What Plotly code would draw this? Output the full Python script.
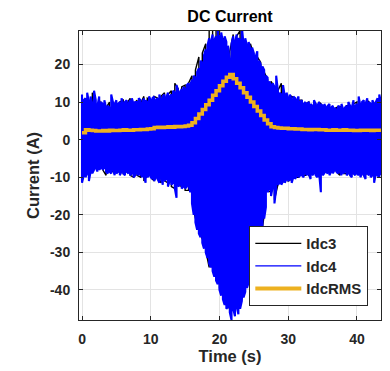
import numpy as np
import plotly.graph_objects as go

# ---------------- data ----------------
# sample times (s) for the Idc4 envelope, every 0.25 s
t_idc4 = np.arange(0, 43.5 + 1e-9, 0.25)
# upper / lower extremes of Idc4 (A) in each 0.25 s slot
idc4_upper = [
    12.0, 10.5, 11.0, 12.5,  10.0, 11.5, 9.5, 13.0,  10.5, 9.0, 11.5, 10.0,
    9.5, 10.5, 8.5, 9.0,  8.5, 12.0, 10.0, 9.5,  10.5, 9.5, 10.0, 11.0,
    9.5, 10.0, 10.5, 9.5,  10.5, 11.0, 9.5, 10.0,  10.0, 11.0, 10.5, 9.5,
    11.0, 10.5, 10.0, 11.5,  10.5, 11.0, 11.5, 10.5,  11.0, 12.0, 10.5, 11.5,
    12.0, 11.0, 12.5, 11.5,  12.0, 13.0, 12.5, 14.5,  13.0, 12.5, 13.5, 14.0,
    13.5, 14.5, 15.0, 14.5,  16.0, 17.0, 16.5, 18.0,  19.0, 21.0, 20.5, 22.5,
    24.0, 25.0, 27.0, 26.0,  28.0, 26.5, 27.5, 30.0,  27.0, 28.5, 26.0, 27.5,
    26.0, 25.0, 20.5, 25.5,  27.5, 26.0, 28.0, 27.0,  26.5, 30.0, 25.5, 27.0,
    25.0, 26.0, 24.0, 24.5,  23.0, 22.0, 23.5, 21.0,  20.0, 19.5, 18.5, 17.0,
    16.5, 15.5, 14.5, 15.0,  14.0, 17.0, 13.0, 12.5,  12.0, 14.5, 11.5, 12.5,
    11.0, 12.0, 10.5, 11.5,  11.0, 10.5, 11.5, 10.0,  10.5, 9.5, 10.0, 9.5,
    10.0, 9.5, 9.0, 10.5,  9.5, 9.0, 10.0, 9.5,  9.0, 9.5, 8.5, 9.0,
    9.5, 8.5, 9.0, 8.5,  8.0, 9.0, 8.5, 9.5,  8.0, 8.5, 9.0, 10.0,
    9.0, 8.5, 10.5, 9.0,  9.5, 11.5, 9.0, 10.0,  10.5, 9.5, 11.0, 10.0,
    9.5, 10.5, 9.5, 10.0,  11.0, 12.0, 10.0,
]
idc4_lower = [
    -11.5, -9.5, -10.0, -9.0,  -11.0, -8.5, -9.0, -8.0,  -7.5, -8.5, -8.0, -7.5,
    -8.0, -7.5, -8.5, -9.0,  -8.5, -9.0, -8.0, -9.5,  -9.0, -8.5, -9.5, -8.5,
    -9.0, -9.5, -8.5, -9.0,  -9.5, -9.0, -10.0, -9.5,  -9.0, -9.5, -9.0, -10.0,
    -9.5, -11.5, -10.0, -9.5,  -10.0, -10.5, -11.0, -10.0,  -10.5, -11.5, -10.0, -12.0,
    -11.0, -10.5, -12.5, -11.0,  -12.0, -11.5, -13.0, -15.5,  -12.5, -12.0, -13.0, -12.5,
    -13.0, -12.5, -12.0, -14.0,  -17.0, -20.0, -22.0, -24.0,  -25.0, -26.0, -27.5, -29.0,
    -30.0, -31.5, -33.0, -34.0,  -35.0, -36.5, -37.5, -38.5,  -40.0, -41.5, -42.5, -44.0,
    -45.0, -44.5, -46.0, -48.0,  -45.0, -47.0, -44.5, -46.5,  -45.0, -43.0, -42.0, -40.5,
    -39.5, -38.0, -36.5, -35.5,  -34.0, -33.0, -31.5, -30.0,  -28.0, -25.0, -21.0, -18.0,
    -14.0, -13.0, -15.0, -12.5,  -17.0, -13.0, -12.0, -11.5,  -12.0, -11.0, -11.5, -10.5,
    -11.0, -10.5, -11.5, -10.0,  -10.5, -9.5, -10.0, -9.5,  -9.5, -10.0, -9.0, -9.5,
    -9.0, -10.5, -9.5, -9.0,  -9.5, -10.0, -9.0, -14.0,  -9.5, -9.0, -8.5, -9.0,
    -9.5, -8.5, -9.0, -8.0,  -8.5, -9.0, -8.5, -9.5,  -9.0, -8.5, -9.5, -9.0,
    -9.5, -10.0, -9.0, -9.5,  -9.0, -9.5, -10.0, -9.0,  -9.5, -10.5, -9.0, -9.5,
    -10.0, -9.5, -11.5, -9.0,  -9.5, -10.0, -9.5,
]

# sample times (s) for Idc3 and the RMS curve, every 0.5 s
t_half = np.arange(0, 43.5 + 1e-9, 0.5)
idc3_upper = [
    10.5, 10.0, 9.5, 12.5, 9.5, 10.5, 8.5, 8.5, 10.0, 9.0,
    9.5, 10.0, 10.5, 9.5, 11.0, 9.5, 10.5, 9.5, 11.5, 11.0,
    10.5, 11.5, 11.0, 11.5, 12.5, 12.0, 13.0, 15.0, 13.5, 14.0,
    14.5, 15.0, 17.0, 18.5, 22.0, 23.0, 25.5, 29.5, 29.0, 30.0,
    29.5, 27.0, 25.0, 23.5, 28.0, 27.5, 29.0, 26.5, 24.5, 25.5,
    22.5, 22.0, 20.5, 18.0, 16.0, 15.5, 14.0, 13.0, 15.0, 12.0,
    11.0, 11.5, 11.0, 10.5, 10.5, 9.5, 10.0, 9.0, 9.5, 10.0,
    9.0, 8.5, 9.0, 8.0, 8.5, 9.0, 7.5, 9.0, 9.0, 9.5,
    10.0, 9.0, 10.0, 10.5, 9.5, 9.5, 10.5, 10.0,
]
idc3_lower = [
    -9.5, -9.0, -8.5, -7.5, -7.5, -7.5, -8.0, -9.5, -8.5, -8.5,
    -8.5, -8.5, -9.0, -8.5, -9.5, -10.0, -9.5, -10.0, -11.0, -9.5,
    -10.0, -11.0, -10.5, -11.5, -11.0, -11.5, -12.5, -13.0, -12.0, -12.5,
    -13.5, -13.5, -16.5, -21.0, -24.0, -26.5, -29.5, -34.0, -34.0, -36.5,
    -39.5, -41.5, -44.0, -45.0, -45.5, -43.5, -44.0, -41.0, -38.5, -35.5,
    -33.0, -30.5, -27.0, -20.0, -13.5, -14.0, -16.0, -12.0, -11.5, -11.0,
    -11.0, -10.5, -10.0, -10.0, -9.5, -9.5, -9.5, -9.0, -9.5, -9.5,
    -9.0, -8.5, -8.5, -8.5, -8.5, -9.5, -9.0, -9.0, -9.0, -9.0,
    -9.0, -9.0, -9.5, -9.0, -9.5, -9.0, -9.5, -9.0,
]
idc_rms = [
    1.8, 2.6, 2.5, 2.4, 2.3, 2.3, 2.4, 2.3, 2.5, 2.4,
    2.4, 2.5, 2.6, 2.5, 2.5, 2.6, 2.6, 2.7, 2.7, 2.8,
    2.9, 3.2, 3.3, 3.2, 3.3, 3.4, 3.3, 3.5, 3.4, 3.5,
    3.6, 3.8, 4.5, 5.6, 6.8, 8.0, 9.3, 10.5, 11.8, 13.0,
    14.3, 15.5, 16.6, 17.3, 16.2, 15.0, 13.8, 12.5, 11.3, 10.0,
    8.8, 7.6, 6.4, 5.2, 4.2, 3.4, 3.2, 3.1, 3.0, 3.0,
    2.9, 2.9, 2.8, 2.8, 2.7, 2.7, 2.6, 2.7, 2.7, 2.6,
    2.6, 2.5, 2.5, 2.6, 2.5, 2.5, 2.6, 2.5, 2.5, 2.4,
    2.4, 2.5, 2.5, 2.5, 2.4, 2.5, 2.5, 2.5,
]

series_names = ["Idc3", "Idc4", "IdcRMS"]
series_colors = ["#000000", "#0000FF", "#EDB120"]
x_ticks = [0, 10, 20, 30, 40]
y_ticks = [-40, -30, -20, -10, 0, 10, 20]


def snake(t, up, lo):
    """Trace sweeping between extremes: U0 L0 L1 U1 U2 L2 L3 U3 ..."""
    t = np.asarray(t, float)
    up = np.asarray(up, float)
    lo = np.asarray(lo, float)
    xs = np.repeat(t, 2)
    ys = np.empty(2 * len(t))
    even = np.arange(len(t)) % 2 == 0
    ys[0::2] = np.where(even, up, lo)
    ys[1::2] = np.where(even, lo, up)
    return xs, ys


x3, y3 = snake(t_half, idc3_upper, idc3_lower)
x4, y4 = snake(t_idc4, idc4_upper, idc4_lower)

FONT = "Liberation Sans"
DARK = "#262626"

fig = go.Figure()
# drawn signals (legend entries are added separately with thin sample lines)
fig.add_trace(go.Scatter(x=x3, y=y3, mode="lines", showlegend=False,
                         legendgroup="a", line=dict(color=series_colors[0], width=1.4)))
fig.add_trace(go.Scatter(x=x4, y=y4, mode="lines", showlegend=False,
                         legendgroup="b", line=dict(color=series_colors[1], width=2.1)))
fig.add_trace(go.Scatter(x=t_half, y=idc_rms, mode="lines", showlegend=False,
                         legendgroup="c",
                         line=dict(color=series_colors[2], width=3.5, shape="hv")))
# legend samples
for name, col, w, grp in zip(series_names, series_colors, [1.2, 1.2, 4], "abc"):
    fig.add_trace(go.Scatter(x=[None], y=[None], mode="lines", legendgroup=grp,
                             name=f"<b>{name}</b>", line=dict(color=col, width=w)))

axis_common = dict(
    showline=True, linecolor=DARK, linewidth=1, mirror="allticks",
    ticks="inside", ticklen=4, tickcolor=DARK, automargin=False,
    showgrid=True, gridcolor="#e3e3e3", gridwidth=1, zeroline=False,
    tickfont=dict(family=FONT, size=14, color=DARK),
)

fig.update_layout(
    width=390, height=371,
    margin=dict(l=79, r=9, t=31, b=51, autoexpand=False),
    paper_bgcolor="white", plot_bgcolor="white",
    font=dict(family=FONT, color=DARK),
    title=dict(text="<b>DC Current</b>", x=0.5, xref="paper",
               y=1 - 16 / 371, yref="container", yanchor="middle",
               font=dict(family=FONT, size=16, color="#000000")),
    xaxis=dict(range=[-0.44, 43.5], tickvals=x_ticks,
               ticktext=[f"<b>{v}</b>" for v in x_ticks],
               ticklabelstandoff=6,
               title=dict(text="<b>Time (s)</b>", standoff=4,
                          font=dict(family=FONT, size=16.5, color=DARK)),
               **axis_common),
    yaxis=dict(range=[-48.0, 28.9], tickvals=y_ticks,
               ticktext=[f"<b>{v}</b>" for v in y_ticks],
               ticklabelstandoff=5,
               title=dict(text="<b>Current (A)</b>", standoff=6,
                          font=dict(family=FONT, size=16.5, color=DARK)),
               **axis_common),
    legend=dict(x=0.958, xanchor="right", y=0.048, yanchor="bottom",
                bgcolor="white", bordercolor=DARK, borderwidth=1,
                font=dict(family=FONT, size=15, color=DARK),
                tracegroupgap=0, itemwidth=46, groupclick="toggleitem",
                traceorder="normal"),
    showlegend=True,
)

fig.write_html("out.html", config={"displayModeBar": False},
               post_script="document.body.style.margin='0';")
